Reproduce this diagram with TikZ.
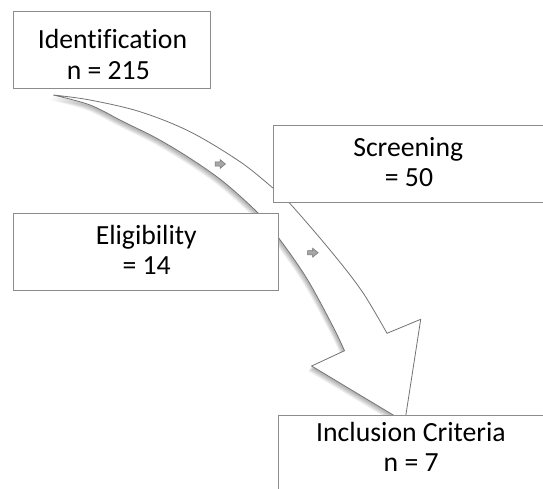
\documentclass[tikz,border=0pt]{standalone}
\usepackage{fontspec}
\setmainfont{Carlito}[Ligatures={NoCommon}]
\begin{document}
\begin{tikzpicture}[x=1pt,y=-1pt,
  box/.style={draw=black!45, line width=0.9pt, fill=white, inner sep=0pt, outer sep=0pt},
  lbl/.style={anchor=base, inner sep=0pt, font=\fontsize{27.7}{30.5}\selectfont},
  arrowline/.style={draw=black!55, line width=0.8pt, fill=white, line join=miter},
  minimark/.style={draw=black!55, line width=0.5pt, fill=black!35}]
\useasboundingbox (0,0) rectangle (543,488);
\def\bigarrow{plot[smooth, tension=0.55] coordinates {(53.3,95) (90,100) (140,111.7) (190,131.7) (240,161.7) (273.3,188.3) (288.3,201.7) (330,250) (362,291.3) (387,333.3)}
  -- (420.7,319.3) -- (404.8,422) -- (311.6,366) -- (344.5,350.7)
  -- plot[smooth, tension=0.55] coordinates {(344.5,350.7) (332.7,326) (306.7,278.3) (278.7,238) (258.3,213.3) (223.3,181.7) (190,158.3) (156.7,138.3) (123.3,121.7) (90,105) (53.3,95)} -- cycle}
% soft shadow
\foreach \d in {7,6.5,...,1.5}{
  \fill[black, opacity=0.028, shift={(-0.5*\d,0.75*\d)}] \bigarrow;
}
\path[arrowline] \bigarrow;
% small arrow markers
\foreach \mx/\my in {220/164, 312.7/252.7}{
  \path[minimark] (\mx-5,\my-2.2) -- (\mx,\my-2.2) -- (\mx,\my-4.5) -- (\mx+5.5,\my) -- (\mx,\my+4.5) -- (\mx,\my+2.2) -- (\mx-5,\my+2.2) -- cycle;
}
% boxes
\node[box, minimum width=196.7pt, minimum height=76.6pt] (ident) at (111.7,50) {};
\node[box, minimum width=270.7pt, minimum height=77pt] (screen) at (408.7,163.5) {};
\node[box, minimum width=265.4pt, minimum height=76.6pt] (elig) at (146,252) {};
\node[box, minimum width=265.3pt, minimum height=77pt] (incl) at (411.3,453.5) {};
% labels
\node[lbl] (identa) at (112.5,48.3) {Identification};
\node[lbl] (identb) at (108.3,79) {n = 215};
\node[lbl] (screena) at (408.2,156) {Screening};
\node[lbl] (screenb) at (409,186.3) {= 50};
\node[lbl] (eliga) at (146.3,244.7) {Eligibility};
\node[lbl] (eligb) at (146.7,274.7) {= 14};
\node[lbl] (incla) at (411,441.7) {Inclusion Criteria};
\node[lbl] (inclb) at (411.2,471.7) {n = 7};
\end{tikzpicture}
\end{document}
